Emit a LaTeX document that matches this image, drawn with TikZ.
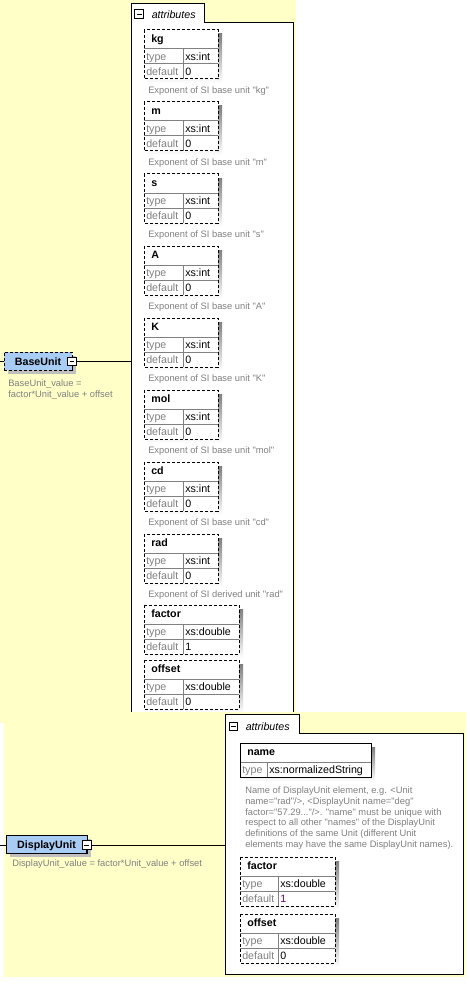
\documentclass[tikz,border=0pt]{standalone}
\usepackage{fontspec}
\newfontfamily\xsfont{Liberation Sans}
\usetikzlibrary{shadows}
\definecolor{bgyellow}{HTML}{FFFFC8}
\definecolor{elemblue}{HTML}{A8CCF4}
\definecolor{shade}{HTML}{C0C0C0}
\definecolor{keygray}{HTML}{808080}
\definecolor{defpurple}{HTML}{700070}

\tikzset{
  frame/.style={line width=0.75pt},
  optline/.style={line width=0.75pt,dash pattern=on 2.25pt off 1.5pt},
  rowline/.style={line width=0.75pt,draw=keygray},
  elem/.style={fill=elemblue,inner sep=0pt,minimum height=13.5pt,
    font=\xsfont\fontsize{8}{9}\selectfont\bfseries,text height=6pt,text depth=0pt,
    drop shadow={shadow xshift=3pt,shadow yshift=-3pt,fill=shade,opacity=1}},
  minusbox/.style={draw,fill=white,line width=0.75pt,minimum size=6.5pt,inner sep=0pt,
    path picture={\draw[line width=0.75pt] ([xshift=1.5pt]path picture bounding box.west)
      -- ([xshift=-1.5pt]path picture bounding box.east);}},
  attrtitle/.style={anchor=west,inner sep=0pt,font=\xsfont\fontsize{8}{9}\selectfont\bfseries,
    text height=5.5pt,text depth=1.5pt},
  attrkey/.style={anchor=west,inner sep=0pt,text=keygray,font=\xsfont\fontsize{8}{9}\selectfont,
    text height=5.5pt,text depth=1.5pt},
  attrval/.style={attrkey,text=black},
  desc/.style={anchor=west,inner sep=0pt,text=keygray,font=\xsfont\fontsize{7}{8.2}\selectfont,
    text height=5.5pt,text depth=1.5pt},
  tabtext/.style={anchor=west,inner sep=0pt,font=\xsfont\fontsize{8}{9}\selectfont\itshape,
    text height=5.5pt,text depth=1.5pt},
}

% left, top, right, divider, name, type, default, id
\newcommand{\attrbox}[8]{%
  \fill[shade] (#1+4,#2+4) rectangle (#3+4,#2+53);
  \fill[white] (#1,#2) rectangle (#3,#2+49);
  \draw[rowline] (#1,#2+19) -- (#3,#2+19) (#1,#2+34) -- (#3,#2+34) (#4,#2+19) -- (#4,#2+49);
  \draw[optline] (#1,#2) rectangle (#3,#2+49);
  \node[attrtitle] (#8-name) at (#1+7,#2+10) {#5};
  \node[attrkey] (#8-tk) at (#1+2,#2+28) {type};
  \node[attrval] (#8-tv) at (#4+2,#2+28) {#6};
  \node[attrkey] (#8-dk) at (#1+2,#2+43) {default};
  \node[attrval] (#8-dv) at (#4+2,#2+43) {#7};
}

\begin{document}
\begin{tikzpicture}[x=0.75pt,y=-0.75pt]
\useasboundingbox (0,0) rectangle (470,988);

% BaseUnit
\fill[bgyellow] (0,0) rectangle (296,723);
\filldraw[fill=white,frame] (131,723) -- (131,4) -- (204,4) -- (204,22.5) -- (293,22.5) -- (293,723);
\node[minusbox] (btabminus) at (139.25,14.25) {};
\node[tabtext] (btab) at (151.5,15.5) {attributes};

\node[elem,draw,optline,minimum width=51pt] (baseunit) at (38,361) {BaseUnit};
\node[minusbox] (baseminus) at (72,361.5) {};
\coordinate (bparent) at (0,361.5);
\coordinate (battr) at (131,361.5);
\draw[frame] (bparent) -- (bparent -| baseunit.west);
\draw[frame] (baseminus.east) -- (battr);
\draw[frame] (baseminus.south) -- ++(0,4);
\node[desc] (bdesc1) at (8,383.5) {BaseUnit\_value =};
\node[desc] (bdesc2) at (8,394.5) {factor*Unit\_value + offset};

\foreach \u [count=\i from 0] in {kg,m,s,A,K,mol,cd} {
  \attrbox{144}{30+72*\i}{218}{183}{\u}{xs:int}{0}{b\u}
  \node[desc] (b\u-desc) at (148,90.5+72*\i) {Exponent of SI base unit "\u"};
}
\attrbox{144}{534}{218}{183}{rad}{xs:int}{0}{brad}
\node[desc] (brad-desc) at (148,594.5) {Exponent of SI derived unit "rad"};
\attrbox{144}{605}{239}{183}{factor}{xs:double}{1}{bfactor}
\attrbox{144}{660}{239}{183}{offset}{xs:double}{0}{boffset}

% DisplayUnit
\fill[bgyellow] (4,712) rectangle (466,977);
\filldraw[fill=white,frame] (225,714) -- (299,714) -- (299,733) -- (463,733) -- (463,974) -- (225,974) -- cycle;
\node[minusbox] (dtabminus) at (233.5,726.5) {};
\node[tabtext] (dtab) at (245.5,727.5) {attributes};

\node[elem,draw,frame,minimum width=60.75pt] (displayunit) at (46.5,844) {DisplayUnit};
\node[minusbox] (dispminus) at (86.8,845) {};
\coordinate (dparent) at (0,845);
\coordinate (dattr) at (225,845);
\draw[frame] (dparent) -- (dparent -| displayunit.west);
\draw[frame] (dispminus.east) -- (dattr);
\draw[frame] (dispminus.south) -- ++(0,4);
\node[desc] (ddesc) at (12,864) {DisplayUnit\_value = factor*Unit\_value + offset};

\fill[shade] (244,747) rectangle (375,781);
\fill[white] (240,743) rectangle (371,777);
\draw[rowline] (240,762) -- (371,762) (267,762) -- (267,777);
\draw[frame] (240,743) rectangle (371,777);
\node[attrtitle] (dname-name) at (247,753) {name};
\node[attrkey] (dname-tk) at (242,771) {type};
\node[attrval] (dname-tv) at (269,771) {xs:normalizedString};
\node[desc] (dname-desc1) at (245,790.6) {Name of DisplayUnit element, e.g. <Unit};
\node[desc] (dname-desc2) at (245,801.5) {name="rad"/>, <DisplayUnit name="deg"};
\node[desc] (dname-desc3) at (245,812.4) {factor="57.29..."/>. "name" must be unique with};
\node[desc] (dname-desc4) at (245,823.3) {respect to all other "names" of the DisplayUnit};
\node[desc] (dname-desc5) at (245,834.2) {definitions of the same Unit (different Unit};
\node[desc] (dname-desc6) at (245,845.1) {elements may have the same DisplayUnit names).};
\attrbox{240}{857}{335}{278}{factor}{xs:double}{\textcolor{defpurple}{1}}{dfactor}
\attrbox{240}{914}{335}{278}{offset}{xs:double}{0}{doffset}
\end{tikzpicture}
\end{document}
